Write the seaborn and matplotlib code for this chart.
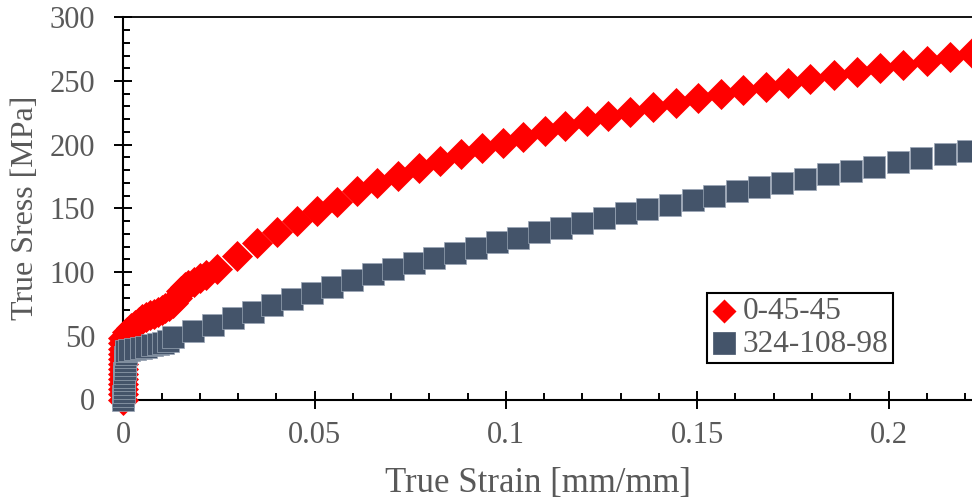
import matplotlib
matplotlib.use("Agg")
import matplotlib.pyplot as plt
import seaborn as sns
from matplotlib.ticker import MultipleLocator, FixedLocator, FuncFormatter

# ---------------- data ----------------
red_label = "0-45-45"
red_strain = [0.0000] * 13 + [
    0.0010, 0.0020, 0.0030, 0.0040, 0.0050, 0.0060, 0.0070, 0.0080, 0.0090, 0.0100,
    0.0110, 0.0120, 0.0130, 0.0140, 0.0150, 0.0160, 0.0170, 0.0185, 0.0200, 0.0215,
    0.0244, 0.0296, 0.0349, 0.0401, 0.0453, 0.0505, 0.0558, 0.0610, 0.0664, 0.0719,
    0.0774, 0.0828, 0.0883, 0.0937, 0.0992, 0.1046, 0.1101, 0.1155, 0.1213, 0.1268,
    0.1324, 0.1385, 0.1444, 0.1503, 0.1561, 0.1619, 0.1679, 0.1738, 0.1796, 0.1857,
    0.1917, 0.1978, 0.2039, 0.2100, 0.2162, 0.2217]
red_stress = [0, 4, 8, 12, 16, 20, 24, 28, 32, 36, 40, 44, 48,
    53.0, 56.0, 58.5, 61.0, 63.0, 64.5, 66.0, 67.5, 68.5, 70.0,
    71.5, 73.0, 76.0, 80.0, 85.0, 88.0, 89.5, 92.0, 95.0, 97.5,
    102.6, 112.6, 122.6, 131.8, 140.2, 147.7, 155.3, 163.3, 169.7, 175.4,
    181.5, 187.2, 192.5, 197.2, 201.6, 206.3, 210.8, 214.7, 218.9, 222.3,
    225.9, 229.8, 233.0, 236.4, 239.6, 242.9, 245.5, 248.7, 251.6, 254.5,
    257.3, 260.0, 262.6, 265.7, 268.6, 271.7]

blue_label = "324-108-98"
blue_strain = [
    0.0000, 0.0000, 0.0001, 0.0001, 0.0002, 0.0002, 0.0003, 0.0003, 0.0004, 0.0004,
    0.0005, 0.0005, 0.0006, 0.0007,
    0.0015, 0.0030, 0.0045, 0.0060, 0.0075, 0.0090, 0.0105, 0.0118,
    0.0131, 0.0182, 0.0234, 0.0286, 0.0338, 0.0389, 0.0440, 0.0492, 0.0545, 0.0597,
    0.0652, 0.0706, 0.0760, 0.0813, 0.0868, 0.0922, 0.0977, 0.1032, 0.1087, 0.1143,
    0.1200, 0.1257, 0.1314, 0.1370, 0.1429, 0.1488, 0.1545, 0.1603, 0.1662, 0.1722,
    0.1782, 0.1843, 0.1901, 0.1963, 0.2024, 0.2085, 0.2148, 0.2209]
blue_stress = [
    0, 3, 6, 9, 12, 15, 18, 21, 24, 27, 30, 33, 36, 38,
    39.0, 40.0, 40.8, 41.6, 42.4, 43.3, 44.3, 46.0,
    48.8, 53.6, 58.7, 63.7, 68.9, 74.2, 78.7, 83.4, 88.1, 93.8,
    98.3, 102.7, 106.9, 111.3, 115.2, 119.2, 123.4, 127.0, 131.2, 134.9,
    138.8, 142.5, 146.2, 149.3, 152.7, 156.4, 160.0, 163.7, 166.8, 170.2,
    173.3, 176.8, 179.6, 182.7, 186.2, 189.3, 192.5, 195.3]

x_ticks = [0, 0.05, 0.1, 0.15, 0.2]
y_ticks = [0, 50, 100, 150, 200, 250, 300]
x_label = "True Strain [mm/mm]"
y_label = "True Sress [MPa]"

# ---------------- style ----------------
sns.set_style("white")
plt.rcParams["font.family"] = ["Liberation Serif", "DejaVu Serif"]
TXT = "#595959"

W, H = 972, 500
fig = plt.figure(figsize=(W / 100, H / 100), dpi=100)
ax_l, ax_r, ax_t, ax_b = 123.3, 972.0, 17.3, 399.5
ax = fig.add_axes([ax_l / W, 1 - ax_b / H, (ax_r - ax_l) / W, (ax_b - ax_t) / H])

sns.scatterplot(x=red_strain, y=red_stress, marker="D", s=250, color="#FF0000",
                linewidth=0, label=red_label, ax=ax, zorder=3, clip_on=False)
sns.scatterplot(x=blue_strain, y=blue_stress, marker="s", s=262, color="#44546A",
                edgecolor="#9aa6b6", linewidth=0.5, label=blue_label, ax=ax,
                zorder=4, clip_on=False)

ax.set_xlim(0, (ax_r - ax_l) / 3826.0)
ax.set_ylim(0, 300)

ax.xaxis.set_major_locator(FixedLocator(x_ticks))
ax.yaxis.set_major_locator(FixedLocator(y_ticks))
ax.xaxis.set_minor_locator(MultipleLocator(0.01))
ax.yaxis.set_minor_locator(MultipleLocator(10))
ax.xaxis.set_major_formatter(FuncFormatter(lambda v, p: "%g" % round(v, 4)))
ax.yaxis.set_major_formatter(FuncFormatter(lambda v, p: "%g" % v))

ax.tick_params(axis="both", which="major", direction="inout", length=13.5, width=1.4,
               labelsize=22, labelcolor=TXT, color="black")
ax.tick_params(axis="y", which="major", pad=13.5, left=True)
ax.tick_params(axis="x", which="major", pad=9, bottom=True)
ax.tick_params(axis="both", which="minor", direction="in", length=5, width=1.4,
               color="black", left=True, bottom=True)

for side in ["left", "bottom"]:
    ax.spines[side].set_linewidth(1.5)
    ax.spines[side].set_color("black")
ax.spines["top"].set_linewidth(1.3)
ax.spines["top"].set_color("black")
ax.spines["right"].set_visible(False)
ax.grid(False)

ax.set_xlabel(x_label, fontsize=25, color=TXT)
ax.set_ylabel(y_label, fontsize=23, color=TXT)
ax.xaxis.label.set_va("center")
ax.yaxis.label.set_va("center")
ax.xaxis.set_label_coords((538 - ax_l) / (ax_r - ax_l), (ax_b - 483) / (ax_b - ax_t))
ax.yaxis.set_label_coords((25 - ax_l) / (ax_r - ax_l), (ax_b - 208) / (ax_b - ax_t))

leg = ax.legend(loc="upper left", bbox_to_anchor=(706.7 / W, 1 - 292.7 / H),
                bbox_transform=fig.transFigure, borderaxespad=0, frameon=True,
                fancybox=False, framealpha=1, edgecolor="black", fontsize=22.5,
                labelcolor=TXT, handlelength=0.8, handletextpad=0.2,
                borderpad=0.15, labelspacing=0.1, markerscale=1.0)
leg.get_frame().set_linewidth(1.5)
handles = leg.legend_handles
handles[0].set_sizes([150])
handles[1].set_sizes([230])
handles[1].set_edgecolor("#44546A")

fig.savefig("out.png", dpi=100, facecolor="white")
